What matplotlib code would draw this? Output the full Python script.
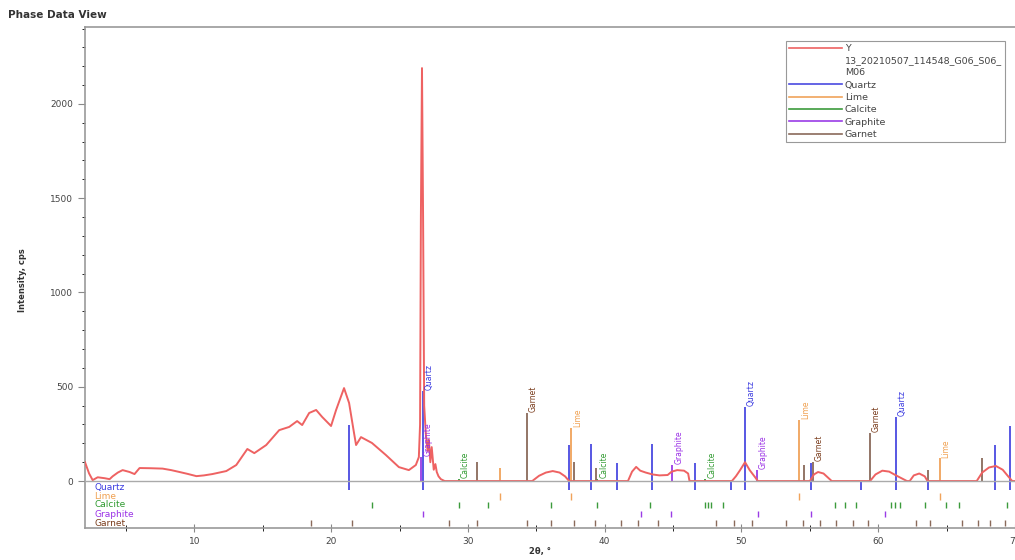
import numpy as np
import matplotlib
matplotlib.use('Agg')
import matplotlib.pyplot as plt
from matplotlib.lines import Line2D

# measured pattern (2theta, cps)
y_x = [2.0, 2.3, 2.56, 2.93, 3.44, 3.8, 4.02, 4.4, 4.75, 5.26, 5.62, 5.99, 6.8, 7.67, 8.3, 8.91, 9.5,
       10.15, 10.7, 11.31, 12.33, 13.06, 13.87, 14.38, 15.25, 16.2, 16.93, 17.51, 17.88, 18.39, 18.9,
       19.34, 19.99, 20.36, 20.94, 21.31, 21.67, 21.82, 22.18, 22.98, 24.0, 24.95, 25.68, 26.19, 26.41,
       26.5, 26.56, 26.64, 26.72, 26.8, 26.92, 27.05, 27.14, 27.25, 27.35, 27.5, 27.62, 27.72, 27.85,
       28.02, 28.3, 34.7, 35.2, 35.7, 36.2, 36.7, 37.1, 37.4, 41.7, 42.0, 42.3, 42.6, 43.0, 43.5, 44.0,
       44.6, 44.9, 45.3, 45.8, 46.1, 46.2, 49.3, 49.6, 49.9, 50.26, 50.6, 51.0, 51.2, 55.0, 55.3, 55.6,
       56.0, 56.3, 56.6, 59.4, 59.8, 60.3, 60.8, 61.3, 62.1, 62.3, 62.6, 63.0, 63.4, 63.6, 67.2, 67.6,
       68.1, 68.6, 69.1, 69.5, 69.8, 70.0]
y_cps = [100, 40, 5, 20, 15, 10, 25, 45, 58, 48, 37, 69, 68, 66, 58, 48, 38,
         26, 30, 37, 53, 85, 170, 148, 191, 270, 287, 318, 297, 361, 377,
         340, 292, 377, 493, 414, 255, 191, 233, 202, 138, 74, 58, 85, 127,
         300, 1400, 2190, 1400, 400, 250, 160, 220, 100, 180, 60, 90, 48, 25,
         10, 0, 0, 28, 45, 53, 45, 25, 0, 0, 50, 75, 55, 45, 35, 30,
         32, 50, 58, 55, 40, 0, 0, 26, 58, 100, 58, 20, 0, 0, 35, 48,
         40, 20, 0, 0, 35, 55, 50, 30, 0, 0, 30, 40, 25, 0, 0, 45,
         72, 80, 60, 25, 0, 0]

# reference sticks per phase
quartz_x = [21.31, 26.70, 37.42, 39.03, 40.93, 43.48, 46.62, 49.24, 50.26, 55.08, 58.72, 61.28, 63.61, 68.57, 69.66]
quartz_h = [297, 480, 190, 195, 95, 195, 95, 0, 392, 95, 0, 340, 0, 190, 290]
lime_x = [32.32, 37.57, 54.20, 64.49]
lime_h = [70, 280, 325, 120]
calcite_x = [29.33, 39.47, 47.34]
calcite_h = [10, 10, 10]
graphite_x = [26.6, 44.94, 51.14]
graphite_h = [127, 85, 60]
garnet_x = [30.64, 34.29, 37.79, 39.39, 54.56, 55.22, 59.38, 63.61, 67.62]
garnet_h = [100, 360, 100, 70, 85, 100, 255, 60, 120]

# labelled sticks
quartz_lab = [26.70, 50.26, 61.28]
lime_lab = [37.57, 54.20, 64.49]
calcite_lab = [29.33, 39.47, 47.34]
graphite_lab = [26.6, 44.94, 51.14]
garnet_lab = [34.29, 55.22, 59.38]

# marker rows under the axis
lime_row = [32.32, 37.57, 54.20, 64.49]
calcite_row = [22.98, 29.33, 31.44, 36.04, 39.47, 43.33, 47.34, 47.56, 47.78, 48.66, 56.83, 57.56, 58.36,
               60.91, 61.2, 61.57, 63.39, 64.92, 65.94, 69.44]
graphite_row = [26.70, 42.68, 44.87, 51.21, 55.08, 60.47]
garnet_row = [18.53, 21.52, 28.6, 30.64, 34.29, 36.04, 37.79, 39.32, 41.22, 42.46, 43.92, 48.15, 49.46,
              50.78, 53.25, 54.49, 55.73, 56.9, 58.13, 59.23, 62.73, 63.82, 66.16, 67.26, 68.2, 69.3]

phase_names = ['Quartz', 'Lime', 'Calcite', 'Graphite', 'Garnet']
phase_colors = ['#4a4ae0', '#f0a35a', '#3c9b3c', '#9a3ce6', '#8a6a5a']
label_colors = ['#3a3ae0', '#f0a050', '#2f9a2f', '#9a30e6', '#7a3c1c']
red = '#ee6262'

fig = plt.figure(figsize=(10.15, 5.6), dpi=100)
ax = fig.add_axes([85 / 1015, 32 / 560, 930 / 1015, 501 / 560])

ax.axhline(0, color='#aaaaaa', lw=1.0, zorder=3.5)

sticks = [(quartz_x, quartz_h, quartz_lab), (lime_x, lime_h, lime_lab), (calcite_x, calcite_h, calcite_lab),
          (graphite_x, graphite_h, graphite_lab), (garnet_x, garnet_h, garnet_lab)]
for i, (xs, hs, labs) in enumerate(sticks):
    bottom = -50 if i == 0 else 0
    ax.vlines(xs, bottom, hs, colors=phase_colors[i], lw=1.3, zorder=2)
    for x, h in zip(xs, hs):
        if x in labs:
            ax.text(x + 0.15, h + 4, phase_names[i], rotation=90, ha='left', va='bottom',
                    fontsize=5.5, color=label_colors[i], zorder=4)

ax.plot(y_x, y_cps, color=red, lw=1.4, zorder=3)

# rows of reference positions
row_y = [-32, -80, -127, -175, -223]
rows = [[], lime_row, calcite_row, graphite_row, garnet_row]
for i in range(5):
    if rows[i]:
        ax.vlines(rows[i], row_y[i] - 18, row_y[i] + 18, colors=phase_colors[i], lw=1.0, zorder=2)
    ax.text(2.7, row_y[i], phase_names[i], fontsize=6.5, color=label_colors[i], va='center', ha='left')

ax.set_xlim(2, 70)
ax.set_ylim(-249, 2408)
ax.set_yticks([0, 500, 1000, 1500, 2000])
ax.set_yticks(np.arange(0, 2401, 100), minor=True)
ax.set_xticks([10, 20, 30, 40, 50, 60, 70])
ax.set_xticks([5, 15, 25, 35, 45, 55, 65], minor=True)
ax.tick_params(axis='both', labelsize=6.5, labelcolor='#444444', color='#888888')
ax.tick_params(axis='y', which='major', direction='out', length=5)
ax.tick_params(axis='y', which='minor', direction='out', length=2.5)
ax.tick_params(axis='x', which='major', direction='inout', length=6)
ax.tick_params(axis='x', which='minor', direction='inout', length=5)
for s in ['left', 'bottom', 'top']:
    ax.spines[s].set_color('#999999')
    ax.spines[s].set_linewidth(1.2)
ax.spines['right'].set_visible(False)

handles = [Line2D([], [], color=red, lw=1.2), Line2D([], [], color='none'), Line2D([], [], color='none')]
handles += [Line2D([], [], color=c, lw=1.2) for c in phase_colors]
labels = ['Y', '13_20210507_114548_G06_S06_', 'M06'] + phase_names
leg = ax.legend(handles, labels, loc='upper right', bbox_to_anchor=(0.989, 0.972), borderaxespad=0,
                fontsize=6.8, handlelength=5.6, handletextpad=0.3, labelspacing=0.35, borderpad=0.3,
                fancybox=False, framealpha=1)
leg.get_frame().set_edgecolor('#999999')
leg.get_frame().set_linewidth(0.8)
for t in leg.get_texts():
    t.set_color('#444444')

fig.text(0.008, 0.974, 'Phase Data View', fontsize=7.5, fontweight='bold', color='#333333', va='center')
fig.text(0.022, 0.5, 'Intensity, cps', rotation=90, fontsize=6, fontweight='bold', color='#333333',
         va='center', ha='center')
fig.text(0.532, 0.016, '2θ, °', fontsize=6, fontweight='bold', color='#333333', va='center', ha='center')

fig.savefig('out.png', dpi=100)
